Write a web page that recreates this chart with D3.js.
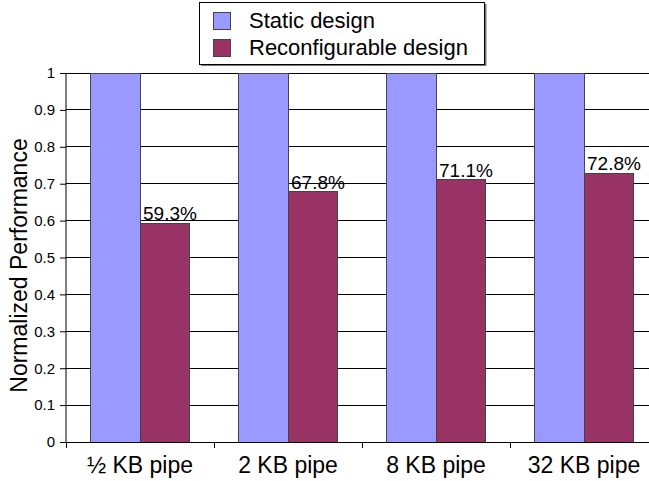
<!DOCTYPE html>
<html>
<head>
<meta charset="utf-8">
<script src="https://cdn.jsdelivr.net/npm/d3@7"></script>
<style>
  html, body { margin: 0; padding: 0; background: #fff; }
  svg { display: block; font-family: "Liberation Sans", Arial, sans-serif; }
</style>
</head>
<body>
<svg id="chart" width="649" height="481"></svg>
<script>
// Normalized performance of the static vs. reconfigurable design per pipe size
const categories = ["½ KB pipe", "2 KB pipe", "8 KB pipe", "32 KB pipe"];
const seriesNames = ["Static design", "Reconfigurable design"];
const staticValues = [1, 1, 1, 1];
const reconfigValues = [0.593, 0.678, 0.711, 0.728];
const reconfigLabels = ["59.3%", "67.8%", "71.1%", "72.8%"];
const yTicks = [0, 0.1, 0.2, 0.3, 0.4, 0.5, 0.6, 0.7, 0.8, 0.9, 1];
const colors = ["#9999FF", "#993366"];

const svg = d3.select("#chart");
const plotLeft = 66, plotRight = 658, plotTop = 73, plotBottom = 442;

const x = d3.scaleBand().domain(categories).range([plotLeft, plotRight]).paddingInner(0).paddingOuter(0);
const inner = d3.scaleBand().domain(seriesNames).range([0, x.bandwidth()]).paddingInner(0).paddingOuter(0.51);
const y = d3.scaleLinear().domain([0, 1]).range([plotBottom, plotTop]);

// horizontal gridlines
svg.append("g").selectAll("line").data(yTicks.filter(d => d > 0)).join("line")
  .attr("x1", plotLeft).attr("x2", plotRight)
  .attr("y1", d => y(d)).attr("y2", d => y(d))
  .attr("stroke", "#000").attr("stroke-width", 1)
  .attr("shape-rendering", "crispEdges");

// bars
const rows = categories.map((c, i) => [
  { cat: c, s: seriesNames[0], v: staticValues[i] },
  { cat: c, s: seriesNames[1], v: reconfigValues[i], label: reconfigLabels[i] }
]);
const groups = svg.append("g").selectAll("g").data(rows).join("g")
  .attr("transform", d => `translate(${x(d[0].cat)},0)`);
groups.selectAll("rect").data(d => d).join("rect")
  .attr("x", d => inner(d.s))
  .attr("width", inner.bandwidth())
  .attr("y", d => y(d.v))
  .attr("height", d => y(0) - y(d.v))
  .attr("fill", (d, i) => colors[i])
  .attr("stroke", "#444").attr("stroke-width", 1)
  .attr("shape-rendering", "crispEdges");

// value labels on the reconfigurable bars
groups.selectAll("text.val").data(d => d.filter(e => e.label)).join("text")
  .attr("class", "val")
  .attr("x", d => inner(d.s) + 3)
  .attr("y", d => y(d.v) - 3)
  .attr("font-size", 19).attr("fill", "#000")
  .text(d => d.label);

// y axis
const yAxis = d3.axisLeft(y).tickValues(yTicks).tickSize(6).tickPadding(5)
  .tickFormat(d => d === 0 || d === 1 ? d3.format("d")(d) : d3.format(".1f")(d));
const gy = svg.append("g").attr("transform", `translate(${plotLeft},0)`).call(yAxis);
gy.select(".domain").attr("stroke", "#000").attr("d", `M0,${plotTop}V${plotBottom}`);
gy.selectAll(".tick line").attr("stroke", "#000");
gy.selectAll("text").attr("font-size", 15).attr("fill", "#000").attr("font-family", "Liberation Sans, Arial, sans-serif");

// x axis with ticks at category boundaries
svg.append("line").attr("x1", plotLeft).attr("x2", plotRight).attr("y1", plotBottom).attr("y2", plotBottom)
  .attr("stroke", "#000").attr("shape-rendering", "crispEdges");
svg.append("g").selectAll("line").data(categories).join("line")
  .attr("x1", d => x(d)).attr("x2", d => x(d))
  .attr("y1", plotBottom).attr("y2", plotBottom + 6)
  .attr("stroke", "#000").attr("shape-rendering", "crispEdges");
svg.append("g").selectAll("text").data(categories).join("text")
  .attr("x", d => x(d) + x.bandwidth() / 2)
  .attr("y", 473)
  .attr("text-anchor", "middle")
  .attr("font-size", 23).attr("fill", "#000")
  .text(d => d);

// y axis title
svg.append("text")
  .attr("transform", `translate(27,${(plotTop + plotBottom) / 2 + 8}) rotate(-90)`)
  .attr("text-anchor", "middle")
  .attr("font-size", 23).attr("fill", "#000")
  .text("Normalized Performance");

// legend
const lg = svg.append("g");
lg.append("rect").attr("x", 201).attr("y", 4).attr("width", 285.5).attr("height", 62).attr("fill", "#777");
lg.append("rect").attr("x", 199.5).attr("y", 2.5).attr("width", 285).attr("height", 62)
  .attr("fill", "#fff").attr("stroke", "#000");
seriesNames.forEach((s, i) => {
  lg.append("rect").attr("x", 213.5).attr("y", 12.5 + i * 27).attr("width", 17).attr("height", 17)
    .attr("fill", colors[i]).attr("stroke", "#444");
  lg.append("text").attr("x", 249).attr("y", 28 + i * 26.5)
    .attr("font-size", 22).attr("fill", "#000").text(s);
});
</script>
</body>
</html>
